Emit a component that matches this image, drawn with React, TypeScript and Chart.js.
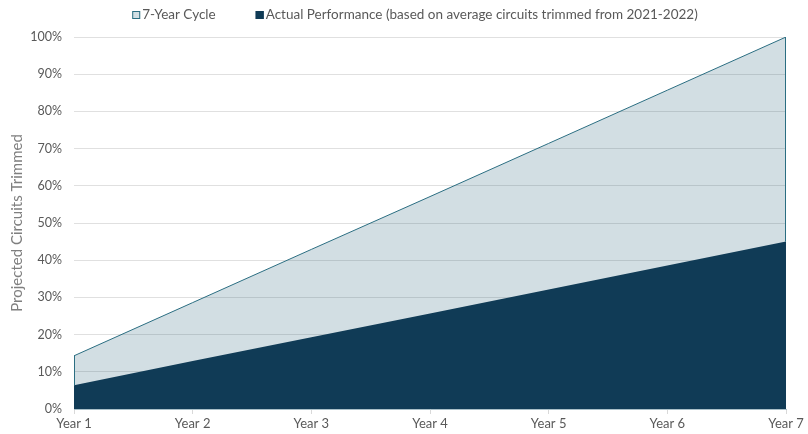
import React, { useEffect, useRef } from "react";
import { Chart, registerables } from "chart.js";

Chart.register(...registerables);

const categories = ["Year 1", "Year 2", "Year 3", "Year 4", "Year 5", "Year 6", "Year 7"];
const cycleValues = [14.3, 28.6, 42.9, 57.1, 71.4, 85.7, 100];
const actualValues = [6.4, 12.9, 19.3, 25.7, 32.1, 38.6, 45];
const seriesNames = ["7-Year Cycle", "Actual Performance (based on average circuits trimmed from 2021-2022)"];
const yTitle = "Projected Circuits Trimmed";

const LINE = "#2b6e82";
const LIGHT_SWATCH = "#d2dfe4";
const DARK = "#103b56";
const TEXT = "#595959";

const edgePlugin = {
  id: "edges",
  afterDatasetsDraw(chart: any) {
    const { ctx, scales } = chart;
    const x = scales.x;
    const y = scales.y;
    ctx.save();
    ctx.strokeStyle = LINE;
    ctx.lineWidth = 1;
    [0, categories.length - 1].forEach((i) => {
      const px = Math.round(x.getPixelForValue(i)) + (i === 0 ? 0.5 : -0.5);
      ctx.beginPath();
      ctx.moveTo(px, y.getPixelForValue(cycleValues[i]));
      ctx.lineTo(px, y.getPixelForValue(actualValues[i]));
      ctx.stroke();
    });
    ctx.restore();
  },
};

const legendPlugin = {
  id: "customLegend",
  afterDraw(chart: any) {
    const { ctx } = chart;
    ctx.save();
    ctx.font = "13.5px Lato";
    ctx.textBaseline = "middle";
    const box = 8;
    const gap = 2;
    const between = 40;
    const widths = seriesNames.map((s) => ctx.measureText(s).width);
    const total = widths.reduce((a, w) => a + box + gap + w, 0) + between;
    let xx = 415 - total / 2;
    const cy = 15;
    const fills = [LIGHT_SWATCH, DARK];
    const strokes = [LINE, DARK];
    seriesNames.forEach((s, i) => {
      ctx.fillStyle = fills[i];
      ctx.fillRect(xx, cy - box / 2, box, box);
      ctx.strokeStyle = strokes[i];
      ctx.lineWidth = 1;
      ctx.strokeRect(xx + 0.5, cy - box / 2 + 0.5, box - 1, box - 1);
      ctx.fillStyle = TEXT;
      ctx.fillText(s, xx + box + gap, cy);
      xx += box + gap + widths[i] + between;
    });
    ctx.restore();
  },
};

export default function App() {
  const ref = useRef<HTMLCanvasElement>(null);
  useEffect(() => {
    document.body.style.margin = "0";
    const chart = new Chart(ref.current!, {
      type: "line",
      data: {
        labels: categories,
        datasets: [
          {
            label: seriesNames[0],
            data: cycleValues,
            borderColor: LINE,
            borderWidth: 1,
            backgroundColor: "rgba(30,92,114,0.2)",
            fill: "origin",
            pointRadius: 0,
            tension: 0,
            order: 1,
          },
          {
            label: seriesNames[1],
            data: actualValues,
            borderColor: DARK,
            borderWidth: 0,
            backgroundColor: DARK,
            fill: "origin",
            pointRadius: 0,
            tension: 0,
            order: 0,
          },
        ],
      },
      options: {
        animation: false,
        responsive: false,
        maintainAspectRatio: false,
        layout: { padding: { left: 0, right: 22, top: 37, bottom: 0 } },
        plugins: {
          tooltip: { enabled: false },
          legend: { display: false },
        },
        scales: {
          x: {
            offset: false,
            afterFit: (s: any) => {
              s.height = 25;
            },
            grid: { display: true, drawOnChartArea: false, drawTicks: true, tickLength: 5, color: "#d9d9d9" },
            border: { color: "#a9bfc8", width: 1 },
            ticks: { color: TEXT, font: { family: "Lato", size: 13 }, padding: 2, maxRotation: 0 },
          },
          y: {
            min: 0,
            max: 100,
            afterFit: (s: any) => {
              s.width = 74;
            },
            ticks: {
              stepSize: 10,
              color: TEXT,
              font: { family: "Lato", size: 12.5 },
              padding: 12,
              callback: (v: any) => v + "%",
            },
            grid: { color: "#e0e0e0", drawTicks: false },
            border: { display: false },
            title: { display: true, text: yTitle, color: "#7f7f7f", font: { family: "Lato", size: 15 }, padding: { top: 8, bottom: 0 } },
          },
        },
      },
      plugins: [edgePlugin, legendPlugin],
    });
    return () => chart.destroy();
  }, []);
  return (
    <div style={{ width: 808, height: 434 }}>
      <canvas ref={ref} width={808} height={434} style={{ width: 808, height: 434 }} />
    </div>
  );
}
